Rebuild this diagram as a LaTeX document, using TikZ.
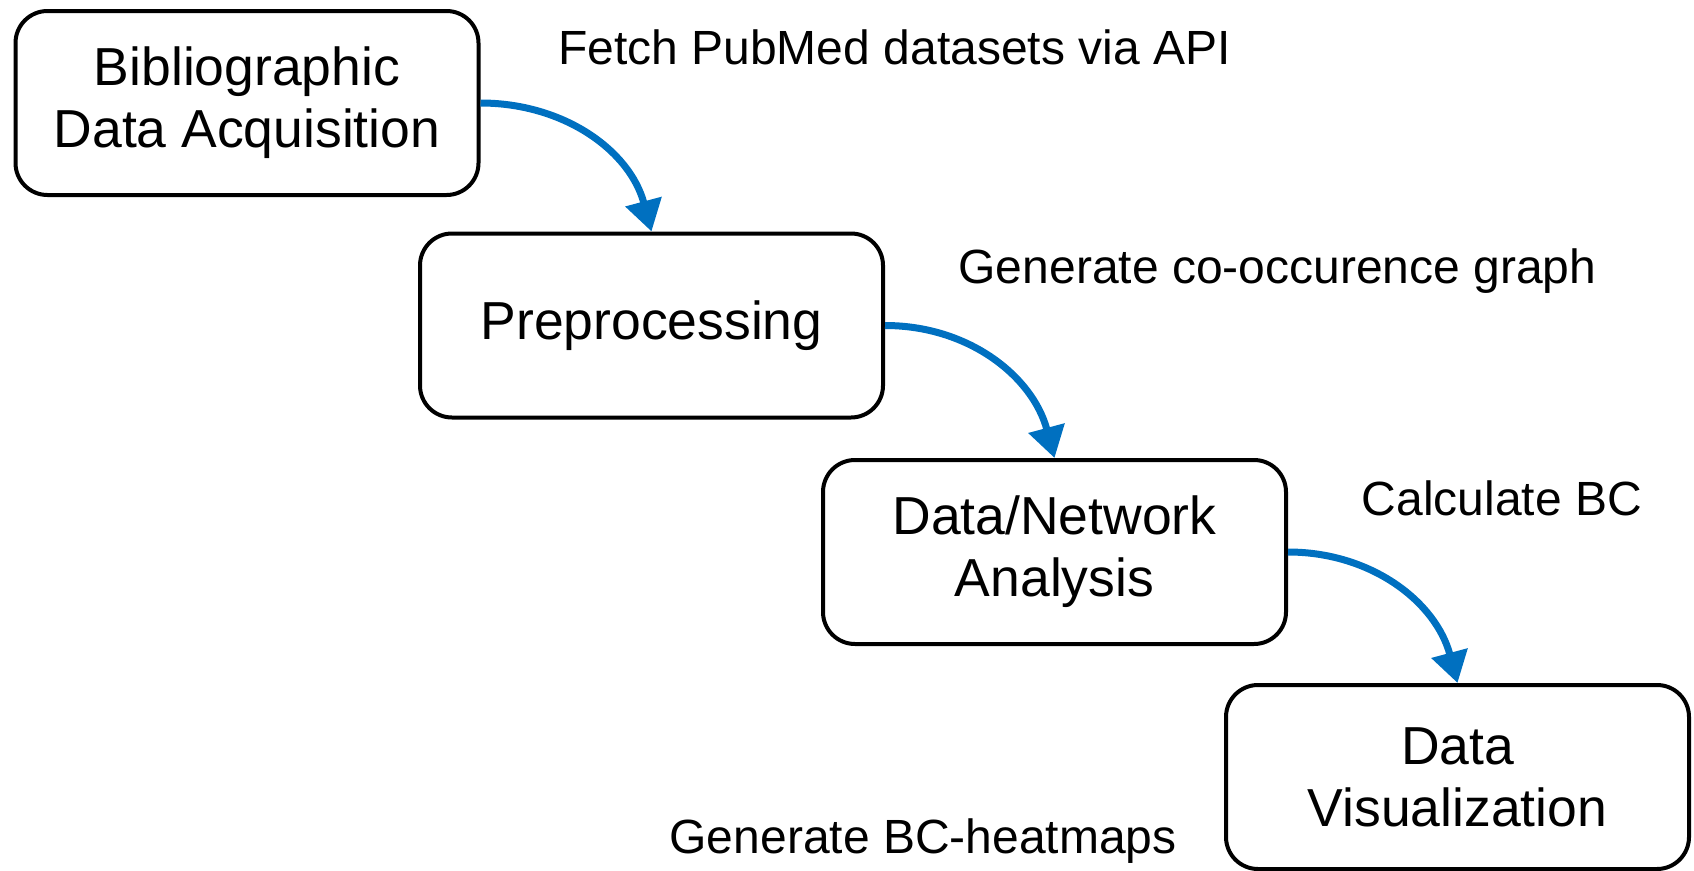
\documentclass[tikz,border=0pt]{standalone}
\usepackage{fontspec}
\setmainfont{Liberation Sans}
\usetikzlibrary{arrows.meta}
\definecolor{flowblue}{RGB}{0,112,192}
\begin{document}
\begin{tikzpicture}[x=1pt,y=-1pt,
  stagebox/.style={draw=black,line width=4pt,rounded corners=32pt,fill=white,
    minimum width=463pt,minimum height=184pt,align=center,inner sep=0pt,
    font=\fontsize{53.5}{62}\selectfont},
  flowarrow/.style={draw=flowblue,line width=7pt,
    -{Triangle[width=36pt,length=31pt]}},
  steplabel/.style={anchor=base west,inner sep=0pt,font=\fontsize{48}{56}\selectfont}]
\useasboundingbox (0,0) rectangle (1694,870);
\node[stagebox] (b1) at (247,103) {Bibliographic\\Data Acquisition};
\node[stagebox] (b2) at (651.5,325.5) {Preprocessing};
\node[stagebox] (b3) at (1054.5,552) {Data/Network\\Analysis};
\node[stagebox] (b4) at (1457.5,777) {Data\\Visualization};
\draw[flowarrow] (b1.east) to[out=0,in=105] (b2.north);
\draw[flowarrow] (b2.east) to[out=0,in=105] (b3.north);
\draw[flowarrow] (b3.east) to[out=0,in=105] (b4.north);
\node[steplabel] (l1) at (558,64) {Fetch PubMed datasets via API};
\node[steplabel] (l2) at (958.4,283) {Generate co-occurence graph};
\node[steplabel] (l3) at (1361.6,515) {Calculate BC};
\node[steplabel] (l4) at (669.4,853.3) {Generate BC-heatmaps};
\end{tikzpicture}
\end{document}
